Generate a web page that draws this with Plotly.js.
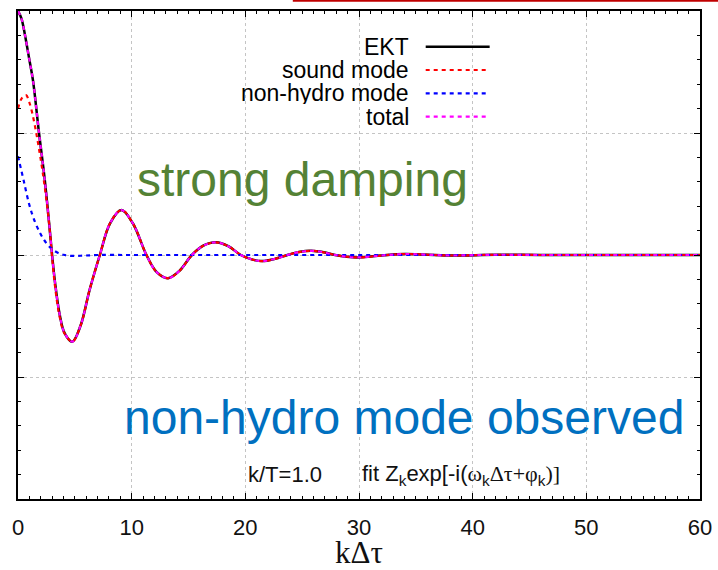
<!DOCTYPE html>
<html>
<head>
<meta charset="utf-8">
<script src="https://cdn.plot.ly/plotly-3.0.1.min.js"></script>
<style>html,body{margin:0;padding:0;background:#fff;}#chart{width:718px;height:570px;}</style>
</head>
<body>
<div id="chart"></div>
<script>
// EKT correlator
const ektX = [0, 0.3, 0.6, 1.0, 1.32, 1.85, 2.35, 2.8, 3.0, 3.25, 3.65, 4.1, 4.78, 5.5, 6.3, 7.2, 8.1, 9.1, 10.1, 11.3, 12.2, 13.2, 14.2, 15.3, 16.3, 17.4, 18.5, 19.6, 20.5, 21.5, 22.6, 23.7, 24.7, 25.8, 26.9, 27.9, 28.9, 30.0, 32.0, 34.0, 38.0, 42.0, 46.0, 52.0, 60.0];
const ektY = [1.0, 0.97, 0.905, 0.80, 0.715, 0.50, 0.31, 0.10, 0.0, -0.11, -0.24, -0.32, -0.355, -0.29, -0.143, 0.0, 0.13, 0.184, 0.13, 0.0, -0.07, -0.095, -0.065, 0.0, 0.038, 0.052, 0.036, 0.0, -0.017, -0.025, -0.016, 0.0, 0.012, 0.017, 0.011, 0.0, -0.007, -0.010, -0.002, 0.004, -0.002, 0.001, 0.0, 0.0, 0.0];

// sound mode
const soundX = [0, 0.3, 0.7, 1.0, 1.4, 1.9, 2.35, 2.8, 3.0, 3.25, 3.65, 4.1, 4.78, 5.5, 6.3, 7.2, 8.1, 9.1, 10.1, 11.3, 12.2, 13.2, 14.2, 15.3, 16.3, 17.4, 18.5, 19.6, 20.5, 21.5, 22.6, 23.7, 24.7, 25.8, 26.9, 27.9, 28.9, 30.0, 32.0, 34.0, 38.0, 42.0, 46.0, 52.0, 60.0];
const soundY = [0.60, 0.64, 0.655, 0.625, 0.55, 0.42, 0.28, 0.10, -0.01, -0.125, -0.25, -0.322, -0.355, -0.29, -0.143, 0.0, 0.13, 0.184, 0.13, 0.0, -0.07, -0.095, -0.065, 0.0, 0.038, 0.052, 0.036, 0.0, -0.017, -0.025, -0.016, 0.0, 0.012, 0.017, 0.011, 0.0, -0.007, -0.010, -0.002, 0.004, -0.002, 0.001, 0.0, 0.0, 0.0];

// non-hydro mode
const nonHydroX = [0, 0.5, 1.0, 1.5, 2.0, 2.5, 3.0, 3.5, 4.0, 4.5, 5.5, 7.0, 10.0, 20.0, 30.0, 40.0, 50.0, 60.0];
const nonHydroY = [0.405, 0.305, 0.205, 0.135, 0.085, 0.048, 0.024, 0.009, 0.001, -0.003, -0.003, 0.0, 0.0, 0.0, 0.0, 0.0, 0.0, 0.0];

// total (sound + non-hydro)
const totalX = ektX.slice();
const totalY = [1.0, 0.97, 0.905, 0.80, 0.715, 0.50, 0.31, 0.10, 0.0, -0.11, -0.24, -0.32, -0.355, -0.29, -0.143, 0.0, 0.13, 0.184, 0.13, 0.0, -0.07, -0.095, -0.065, 0.0, 0.038, 0.052, 0.036, 0.0, -0.017, -0.025, -0.016, 0.0, 0.012, 0.017, 0.011, 0.0, -0.007, -0.010, -0.002, 0.004, -0.002, 0.001, 0.0, 0.0, 0.0];

const xTicks = [0, 10, 20, 30, 40, 50, 60];
const legendNames = ["EKT", "sound mode", "non-hydro mode", "total"];
const xTitle = 'kΔτ';

const W = 718, H = 570;
const M = {l: 18, r: 17.5, t: 11, b: 71};
const pw = W - M.l - M.r, ph = H - M.t - M.b;
const px = x => (x - M.l) / pw;
const py = y => 1 - (y - M.t) / ph;

const spl = {shape: 'spline', smoothing: 1};
const traces = [
  {x: ektX, y: ektY, mode: 'lines', name: legendNames[0], line: Object.assign({color: '#000000', width: 2.5}, spl)},
  {x: soundX, y: soundY, mode: 'lines', name: legendNames[1], line: Object.assign({color: '#ff0000', width: 2.2, dash: '4px,4px'}, spl)},
  {x: nonHydroX, y: nonHydroY, mode: 'lines', name: legendNames[2], line: Object.assign({color: '#0000ff', width: 2.2, dash: '4px,4px'}, spl)},
  {x: totalX, y: totalY, mode: 'lines', name: legendNames[3], line: Object.assign({color: '#ff00ff', width: 2.2, dash: '4px,4px'}, spl)}
];

const legColors = ['#000000', '#ff0000', '#0000ff', '#ff00ff'];
const legRowsPx = [46.7, 70, 93.3, 116.7];
const annotations = [];
const shapes = [];
legendNames.forEach((n, i) => {
  annotations.push({xref: 'paper', yref: 'paper', x: px(411), y: py(legRowsPx[i]), xanchor: 'right', yanchor: 'middle',
    height: 22, valign: 'middle',
    text: n, showarrow: false, font: {family: 'Liberation Sans, Arial', size: 23, color: '#000'}});
  shapes.push({type: 'line', xref: 'paper', yref: 'paper', x0: px(426), x1: px(490), y0: py(legRowsPx[i]), y1: py(legRowsPx[i]),
    line: {color: legColors[i], width: i === 0 ? 2.5 : 2.2, dash: i === 0 ? 'solid' : '4px,4px'}});
});
// slide artifact red line at top
shapes.push({type: 'line', xref: 'paper', yref: 'paper', x0: px(293), x1: px(720), y0: py(0.8), y1: py(0.8), line: {color: '#c00000', width: 2}});

// x-axis title placed as annotation so it can sit as low as in the reference
annotations.push({xref: 'paper', yref: 'paper', x: 0.5, y: py(552), xanchor: 'center', yanchor: 'middle', showarrow: false,
  text: xTitle, font: {family: 'Liberation Serif, Times New Roman', size: 31, color: '#111'}});

annotations.push({x: 25.0, y: 0.31, xref: 'x', yref: 'y', text: 'strong damping', showarrow: false,
  font: {family: 'Liberation Sans, Arial', size: 48, color: '#548235'}});
annotations.push({x: 34.0, y: -0.665, xref: 'x', yref: 'y', text: 'non-hydro mode observed', showarrow: false,
  font: {family: 'Liberation Sans, Arial', size: 48, color: '#0070c0'}});
annotations.push({x: 23.45, y: -0.9, xref: 'x', yref: 'y', text: 'k/T=1.0', showarrow: false,
  font: {family: 'Liberation Sans, Arial', size: 22, color: '#111'}});
const g = s => '<span style="font-family:Liberation Serif">' + s + '</span>';
annotations.push({x: 30.05, y: -0.9, xref: 'x', yref: 'y', xanchor: 'left', showarrow: false,
  text: 'fit Z<sub>k</sub>exp[-i(' + g('ω') + '<sub>k</sub>' + g('Δτ+φ') + '<sub>k</sub>' + g(')]'),
  font: {family: 'Liberation Sans, Arial', size: 22, color: '#111'}});

const axisCommon = {
  showline: true, linecolor: '#000', linewidth: 2, mirror: 'allticks',
  ticks: 'inside', ticklen: 6, tickwidth: 1, tickcolor: '#000',
  showgrid: true, gridcolor: '#c4c4c4', griddash: 'dot', gridwidth: 1,
  zeroline: false, fixedrange: true
};

const layout = {
  width: W, height: H,
  margin: M,
  paper_bgcolor: '#fff', plot_bgcolor: '#fff',
  showlegend: false,
  xaxis: Object.assign({}, axisCommon, {
    range: [0, 60], tickvals: xTicks, ticktext: xTicks.map(String),
    tickfont: {family: 'Liberation Sans, Arial', size: 22, color: '#111'},
    ticklabelstandoff: 8,
    minor: {dtick: 1, ticks: 'inside', ticklen: 3, tickcolor: '#000', showgrid: false}
  }),
  yaxis: Object.assign({}, axisCommon, {
    range: [-1, 1], dtick: 0.5, tick0: 0, showticklabels: false,
    minor: {dtick: 0.1, ticks: 'inside', ticklen: 3, tickcolor: '#000', showgrid: false}
  }),
  annotations: annotations,
  shapes: shapes
};

Plotly.newPlot('chart', traces, layout, {staticPlot: true, displayModeBar: false});
</script>
</body>
</html>
